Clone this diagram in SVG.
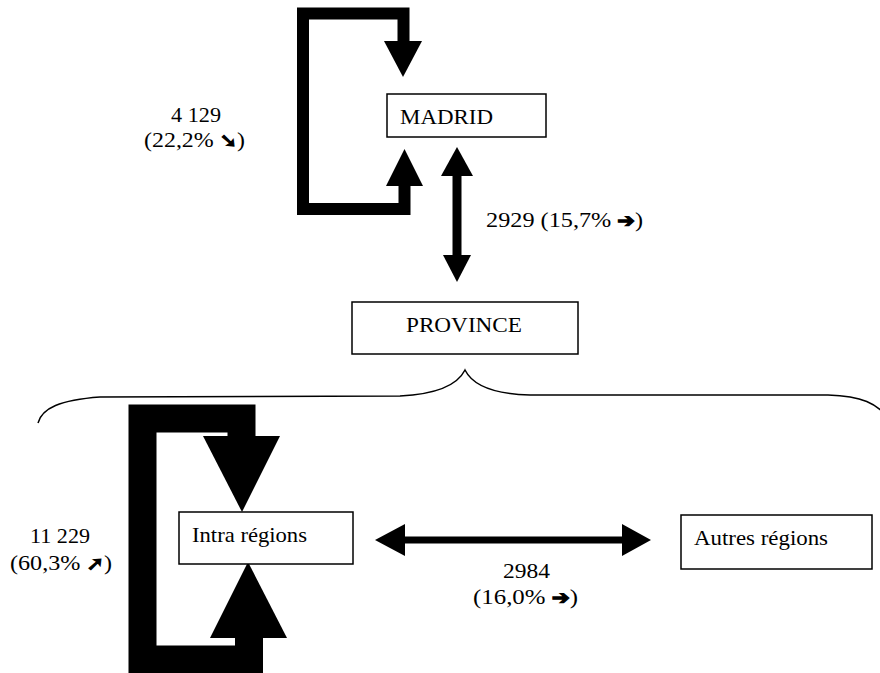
<svg xmlns="http://www.w3.org/2000/svg" width="880" height="673" viewBox="0 0 880 673">
<style>
text{font-family:"Liberation Serif","Times New Roman",serif;font-size:22px;fill:#000}
.ar{font-family:"DejaVu Sans",sans-serif;font-weight:bold;font-size:19px;stroke:#000;stroke-width:1.2}
.box{fill:#fff;stroke:#000;stroke-width:1.5}
.loop{fill:none;stroke:#000;stroke-linejoin:miter}
.head{fill:#000}
.brace{fill:none;stroke:#000;stroke-width:1.5}
</style>
<rect width="880" height="673" fill="#fff"/>
<g id="connectors">
  <polyline class="loop" stroke-width="12" points="403.5,42 403.5,13.5 303,13.5 303,209 404.5,209 404.5,185"/>
  <polygon class="head" points="384,41 422,41 403,77"/>
  <polygon class="head" points="386,186 423,186 404.5,149"/>
  <line x1="457" y1="174" x2="457" y2="257" stroke="#000" stroke-width="9"/>
  <polygon class="head" points="441,176 473,176 457,147"/>
  <polygon class="head" points="443,255 471,255 457,282"/>
  <polyline class="loop" stroke-width="28" points="241.5,438 241.5,418.5 142.5,418.5 142.5,659.5 249,659.5 249,636"/>
  <polygon class="head" points="203,436 280,436 242,512"/>
  <polygon class="head" points="210,638 287,638 248,562"/>
  <line x1="403" y1="540" x2="624" y2="540" stroke="#000" stroke-width="7"/>
  <polygon class="head" points="405,524 405,556 375,540"/>
  <polygon class="head" points="622,524 622,556 651,540"/>
  <path class="brace" d="M38,423 C42,408 60,400 100,397 L400,396 C440,394 458,384 465,370 C472,384 490,394 530,395 L828,395 C860,396 878,402 892,423"/>
</g>
<g id="madrid">
  <rect class="box" x="387" y="94" width="159" height="43"/>
  <text x="400" y="124" textLength="93" lengthAdjust="spacingAndGlyphs">MADRID</text>
</g>
<g id="province">
  <rect class="box" x="352" y="302" width="226" height="52"/>
  <text x="406" y="332" textLength="116" lengthAdjust="spacingAndGlyphs">PROVINCE</text>
</g>
<g id="intra">
  <rect class="box" x="179" y="512" width="174" height="52"/>
  <text x="192" y="542" textLength="115" lengthAdjust="spacingAndGlyphs">Intra régions</text>
</g>
<g id="autres">
  <rect class="box" x="681" y="515" width="191" height="54"/>
  <text x="694" y="545" textLength="134" lengthAdjust="spacingAndGlyphs">Autres régions</text>
</g>
<g id="labels">
  <text x="171" y="122" textLength="50" lengthAdjust="spacingAndGlyphs">4 129</text>
  <text x="144" y="147" textLength="101" lengthAdjust="spacingAndGlyphs">(22,2% <tspan class="ar">➘</tspan>)</text>
  <text x="486" y="227" textLength="157" lengthAdjust="spacingAndGlyphs">2929 (15,7% <tspan class="ar">➔</tspan>)</text>
  <text x="503" y="578" textLength="47" lengthAdjust="spacingAndGlyphs">2984</text>
  <text x="473" y="604" textLength="105" lengthAdjust="spacingAndGlyphs">(16,0% <tspan class="ar">➔</tspan>)</text>
  <text x="30" y="543" textLength="60" lengthAdjust="spacingAndGlyphs">11 229</text>
  <text x="10" y="570" textLength="102" lengthAdjust="spacingAndGlyphs">(60,3% <tspan class="ar">➚</tspan>)</text>
</g>
</svg>
